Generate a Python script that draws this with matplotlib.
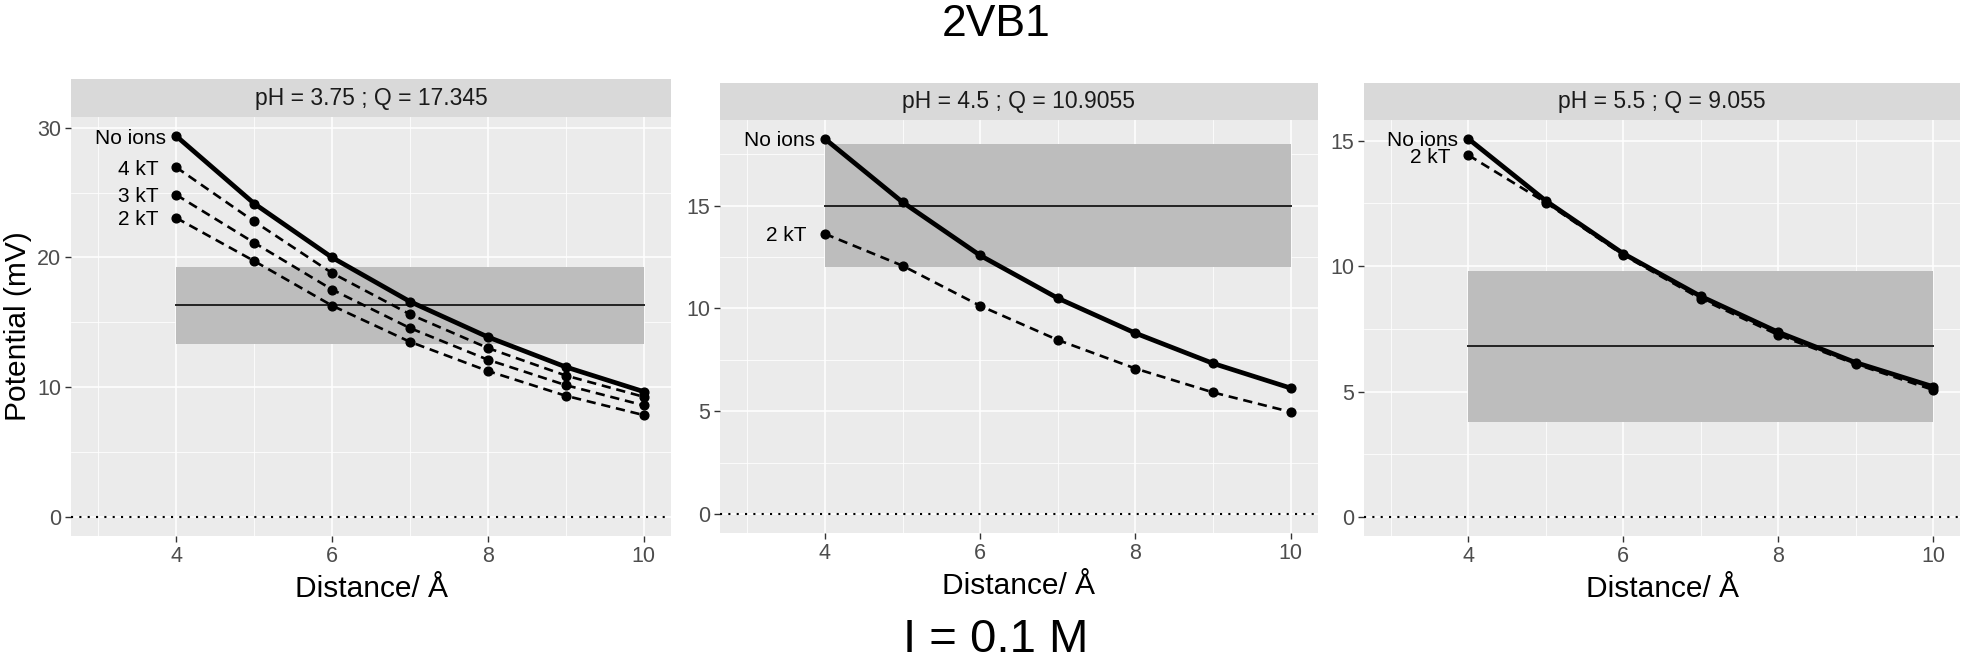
import matplotlib
matplotlib.use("Agg")
import matplotlib.pyplot as plt
from matplotlib import font_manager
from matplotlib.ticker import MultipleLocator, AutoMinorLocator

# ---- data ----
distance = [4, 5, 6, 7, 8, 9, 10]

# pH = 3.75 ; Q = 17.345
ph375_no_ions = [29.36, 24.16, 20.00, 16.60, 13.87, 11.56, 9.66]
ph375_4kt = [26.95, 22.78, 18.80, 15.62, 13.02, 10.90, 9.26]
ph375_3kt = [24.83, 21.14, 17.53, 14.56, 12.12, 10.16, 8.60]
ph375_2kt = [23.05, 19.73, 16.29, 13.50, 11.25, 9.34, 7.85]

# pH = 4.5 ; Q = 10.9055
ph45_no_ions = [18.25, 15.17, 12.58, 10.50, 8.80, 7.33, 6.13]
ph45_2kt = [13.63, 12.08, 10.13, 8.47, 7.08, 5.92, 4.97]

# pH = 5.5 ; Q = 9.055
ph55_no_ions = [15.07, 12.60, 10.50, 8.80, 7.37, 6.16, 5.20]
ph55_2kt = [14.42, 12.53, 10.44, 8.70, 7.26, 6.10, 5.07]

strip_titles = ["pH = 3.75 ; Q = 17.345", "pH = 4.5 ; Q = 10.9055", "pH = 5.5 ; Q = 9.055"]
band_mean = [16.3, 15.0, 6.8]
band_low = [13.3, 12.0, 3.8]
band_high = [19.3, 18.0, 9.8]
y_major = [10, 5, 5]

panel_series = [
    [("No ions", ph375_no_ions), ("4 kT", ph375_4kt), ("3 kT", ph375_3kt), ("2 kT", ph375_2kt)],
    [("No ions", ph45_no_ions), ("2 kT", ph45_2kt)],
    [("No ions", ph55_no_ions), ("2 kT", ph55_2kt)],
]

# ---- fonts ----
available = {f.name for f in font_manager.fontManager.ttflist}
base_font = "Liberation Sans" if "Liberation Sans" in available else "DejaVu Sans"
narrow_font = "Liberation Sans Narrow" if "Liberation Sans Narrow" in available else base_font
plt.rcParams["font.family"] = [base_font, "DejaVu Sans"]

W, H = 1967, 663
fig = plt.figure(figsize=(W / 100, H / 100), dpi=100)


def px_rect(left, top, right, bottom):
    return [left / W, 1 - bottom / H, (right - left) / W, (bottom - top) / H]


# panel boxes in pixels: left, strip top, panel top, right, bottom
boxes = [
    (71, 79, 117, 671, 536),
    (720, 83, 120, 1318, 533),
    (1364, 83, 120, 1960, 536),
]

for i, (left, stop, ptop, right, bottom) in enumerate(boxes):
    ax = fig.add_axes(px_rect(left, ptop, right, bottom))
    strip = fig.add_axes(px_rect(left, stop, right, ptop))

    strip.set_facecolor("#D9D9D9")
    strip.set_xticks([])
    strip.set_yticks([])
    for s in strip.spines.values():
        s.set_visible(False)
    strip.text(0.5, 0.5, strip_titles[i], ha="center", va="center",
               fontsize=16.5, color="#1A1A1A", transform=strip.transAxes)

    ax.set_facecolor("#EBEBEB")
    for s in ax.spines.values():
        s.set_visible(False)

    # band + mean line
    ax.fill_between([4, 10], band_low[i], band_high[i], color="#BDBDBD", lw=0, zorder=1)
    ax.plot([4, 10], [band_mean[i], band_mean[i]], color="#222222", lw=1.4, zorder=2)
    ax.axhline(0, color="black", lw=1.5, ls=(0, (1, 3)), zorder=2)

    # series: dashed first, "No ions" on top
    for name, vals in reversed(panel_series[i]):
        if name == "No ions":
            ax.plot(distance, vals, color="black", lw=3.4, zorder=5,
                    solid_capstyle="round", solid_joinstyle="round")
        else:
            ax.plot(distance, vals, color="black", lw=1.9, ls=(0, (3.5, 2.2)), zorder=4)
        ax.plot(distance, vals, "o", color="black", ms=6.3, zorder=6)
        gap = -10 if name == "No ions" else -18
        ax.annotate(name, (distance[0], vals[0]), xytext=(gap, -2),
                    textcoords="offset pixels", ha="right", va="center",
                    fontsize=15, color="black", fontweight="medium", zorder=7)

    top_val = max(max(v) for _, v in panel_series[i])
    span = top_val - 0
    ax.set_ylim(-0.05 * span, top_val + 0.05 * span)
    ax.set_xlim(2.65, 10.35)

    ax.xaxis.set_major_locator(MultipleLocator(2))
    ax.xaxis.set_minor_locator(AutoMinorLocator(2))
    ax.yaxis.set_major_locator(MultipleLocator(y_major[i]))
    ax.yaxis.set_minor_locator(AutoMinorLocator(2))
    ax.grid(which="major", color="white", lw=1.1)
    ax.grid(which="minor", color="white", lw=0.55)
    ax.set_axisbelow(True)
    ax.tick_params(which="major", length=4, width=1, color="#333333",
                   labelsize=15.5, labelcolor="#4D4D4D", pad=3)
    ax.tick_params(which="minor", length=0)

    ax.set_xlabel("Distance/ Å", fontsize=21.5, color="black", labelpad=6)
    if i == 0:
        ax.set_ylabel("Potential (mV)", fontsize=21.5, color="black", labelpad=4)

fig.text(996 / W, 1 - 25 / H, "2VB1", ha="center", va="center",
         fontsize=32, family=[narrow_font, "DejaVu Sans"])
fig.text(996 / W, 1 - 640 / H, "I = 0.1 M", ha="center", va="center",
         fontsize=34, family=[narrow_font, "DejaVu Sans"])

fig.savefig("out.png", dpi=100, facecolor="white")
